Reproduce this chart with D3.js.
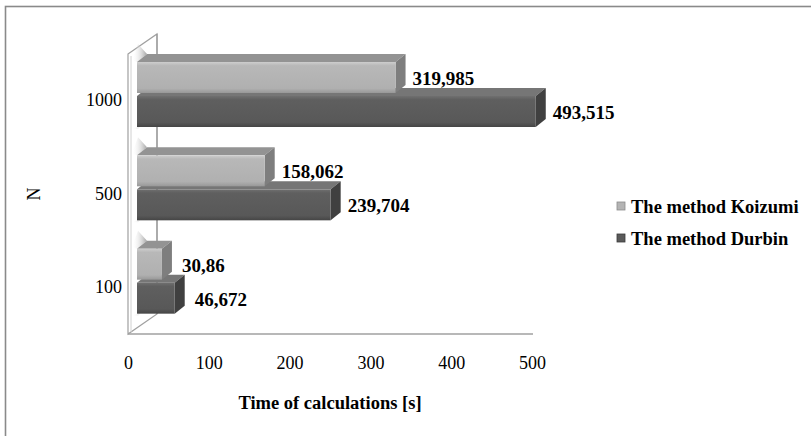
<!DOCTYPE html>
<html>
<head>
<meta charset="utf-8">
<script src="https://cdn.jsdelivr.net/npm/d3@7/dist/d3.min.js"></script>
<style>
  html, body { margin: 0; padding: 0; background: #fff; }
  svg { display: block; }
  text { font-family: "Liberation Serif", "Times New Roman", serif; fill: #000; }
</style>
</head>
<body>
<svg id="chart" width="811" height="436"></svg>
<script>
// Calculation time (s) per problem size N
const categories = ["1000", "500", "100"];
const seriesNames = ["The method Koizumi", "The method Durbin"];
const koizumi = [319.985, 158.062, 30.86];
const durbin = [493.515, 239.704, 46.672];
const xTicks = [0, 100, 200, 300, 400, 500];

const svg = d3.select("#chart");

// oblique 3D: back wall offset and bar depth offset
const wallDX = 29, wallDY = -20;
const barShiftX = 9, barShiftY = -6;   // bars sit a little behind the front plane
const depthDX = 10, depthDY = -8;      // visible depth of each bar

const floorY = 334, wallTop = 54;
const x = d3.scaleLinear().domain([0, 500]).range([128, 532]);
const y = d3.scaleBand().domain(categories).range([wallTop, floorY]);
const ySeries = d3.scaleBand().domain(seriesNames).range([14, 79]).paddingInner(3 / 34);

const fmt = v => String(v).replace(".", ",");

// gradients
const defs = svg.append("defs");
function vGrad(id, stops) {
  const g = defs.append("linearGradient").attr("id", id)
    .attr("x1", 0).attr("y1", 0).attr("x2", 0).attr("y2", 1);
  stops.forEach(([o, c]) => g.append("stop").attr("offset", o).attr("stop-color", c));
}
vGrad("frontK", [[0, "#cdcdcd"], [0.12, "#b8b8b8"], [0.85, "#b0b0b0"], [1, "#989898"]]);
vGrad("frontD", [[0, "#707070"], [0.12, "#5f5f5f"], [0.85, "#585858"], [1, "#454545"]]);
const wallShade = defs.append("linearGradient").attr("id", "wallShade")
  .attr("x1", 0).attr("y1", 0).attr("x2", 1).attr("y2", 0);
wallShade.append("stop").attr("offset", 0).attr("stop-color", "#ffffff").attr("stop-opacity", 0);
wallShade.append("stop").attr("offset", 1).attr("stop-color", "#9a9a9a").attr("stop-opacity", 0.9);

const faces = {
  "The method Koizumi": { front: "url(#frontK)", top: "#939393", side: "#7e7e7e", legend: "#b4b4b4" },
  "The method Durbin":  { front: "url(#frontD)", top: "#767676", side: "#404040", legend: "#5a5a5a" }
};

// outer chart frame
svg.append("rect").attr("x", 5.5).attr("y", 6.5).attr("width", 900).attr("height", 500)
  .attr("fill", "none").attr("stroke", "#8a8a8a").attr("stroke-width", 1.6);

// side wall
const x0 = x(0);
const wall = svg.append("g");
wall.append("path")
  .attr("d", `M${x0},${wallTop} L${x0 + wallDX},${wallTop + wallDY} L${x0 + wallDX},${floorY + wallDY} L${x0},${floorY} Z`)
  .attr("fill", "#fff").attr("stroke", "#a0a0a0").attr("stroke-width", 1.2);
wall.append("line").attr("x1", x0 + 3).attr("x2", x0 + 3).attr("y1", wallTop + 2).attr("y2", floorY - 2)
  .attr("stroke", "#d0d0d0").attr("stroke-width", 1);

// soft shading cast on the wall above and below each pair of bars
categories.forEach(c => {
  const top = y(c) + barShiftY + ySeries(seriesNames[0]);
  const bot = y(c) + barShiftY + ySeries(seriesNames[1]) + ySeries.bandwidth();
  [[top, -1], [bot, 1]].forEach(([yy, dir]) => {
    wall.append("path")
      .attr("d", `M${x0 + 4},${yy + dir * 2} L${x0 + barShiftX},${yy} L${x0 + barShiftX + depthDX},${yy + depthDY} L${x0 + 10},${yy + depthDY + dir * 10} Z`)
      .attr("fill", "url(#wallShade)");
  });
});

// back-wall gridline at zero and floor edge
svg.append("line").attr("x1", x0 + wallDX).attr("x2", x0 + wallDX)
  .attr("y1", wallTop + wallDY).attr("y2", floorY + wallDY)
  .attr("stroke", "#9a9a9a").attr("stroke-width", 1.2);
svg.append("line").attr("x1", x0).attr("x2", x(500) + 1).attr("y1", floorY).attr("y2", floorY)
  .attr("stroke", "#a0a0a0").attr("stroke-width", 1.6);

// bars: lower series first so the upper bar's front face covers its top face
const rows = [];
categories.forEach((c, i) => {
  rows.push({ cat: c, series: seriesNames[1], value: durbin[i] });
  rows.push({ cat: c, series: seriesNames[0], value: koizumi[i] });
});

const bars = svg.append("g");
rows.forEach(d => {
  const xl = x(0) + barShiftX;
  const xr = x(d.value) + barShiftX;
  const yt = y(d.cat) + barShiftY + ySeries(d.series);
  const yb = yt + ySeries.bandwidth();
  const f = faces[d.series];
  const g = bars.append("g");
  g.append("path")
    .attr("d", `M${xl},${yt} L${xl + depthDX},${yt + depthDY} L${xr + depthDX},${yt + depthDY} L${xr},${yt} Z`)
    .attr("fill", f.top);
  g.append("path")
    .attr("d", `M${xr},${yt} L${xr + depthDX},${yt + depthDY} L${xr + depthDX},${yb + depthDY} L${xr},${yb} Z`)
    .attr("fill", f.side);
  g.append("rect").attr("x", xl).attr("y", yt).attr("width", xr - xl).attr("height", yb - yt)
    .attr("fill", f.front);
  svg.append("text")
    .attr("x", xr + depthDX + (d.value < 100 ? 10 : 7)).attr("y", (yt + yb) / 2 + 1).attr("dy", "0.35em")
    .attr("font-size", 19).attr("font-weight", "bold")
    .text(fmt(d.value));
});

// value axis
const xAxis = svg.append("g").attr("transform", `translate(0,${floorY})`)
  .call(d3.axisBottom(x).tickValues(xTicks).tickSize(0).tickPadding(22).tickFormat(d3.format("d")));
xAxis.select(".domain").remove();
xAxis.selectAll("text").attr("font-size", 18).attr("font-family", "Liberation Serif, serif").attr("fill", "#000");

// category axis
const yAxis = svg.append("g").attr("transform", `translate(122,0)`)
  .call(d3.axisLeft(y).tickSize(0).tickPadding(0));
yAxis.select(".domain").remove();
yAxis.selectAll("text").attr("font-size", 18).attr("font-family", "Liberation Serif, serif").attr("fill", "#000");

// axis titles
svg.append("text").attr("x", (x(0) + x(500)) / 2).attr("y", 409)
  .attr("text-anchor", "middle").attr("font-size", 18.5).attr("font-weight", "bold")
  .text("Time of calculations [s]");
svg.append("text").attr("transform", "translate(40,194) rotate(-90)")
  .attr("text-anchor", "middle").attr("font-size", 18)
  .text("N");

// legend
const legend = svg.append("g");
seriesNames.forEach((s, i) => {
  const ly = 207 + i * 32;
  legend.append("rect").attr("x", 617).attr("y", ly - 5).attr("width", 8).attr("height", 8)
    .attr("fill", faces[s].legend).attr("stroke", i ? "#3a3a3a" : "#8c8c8c").attr("stroke-width", 0.8);
  legend.append("text").attr("x", 631).attr("y", ly).attr("dy", "0.35em")
    .attr("font-size", 18.5).attr("font-weight", "bold").text(s);
});
</script>
</body>
</html>
